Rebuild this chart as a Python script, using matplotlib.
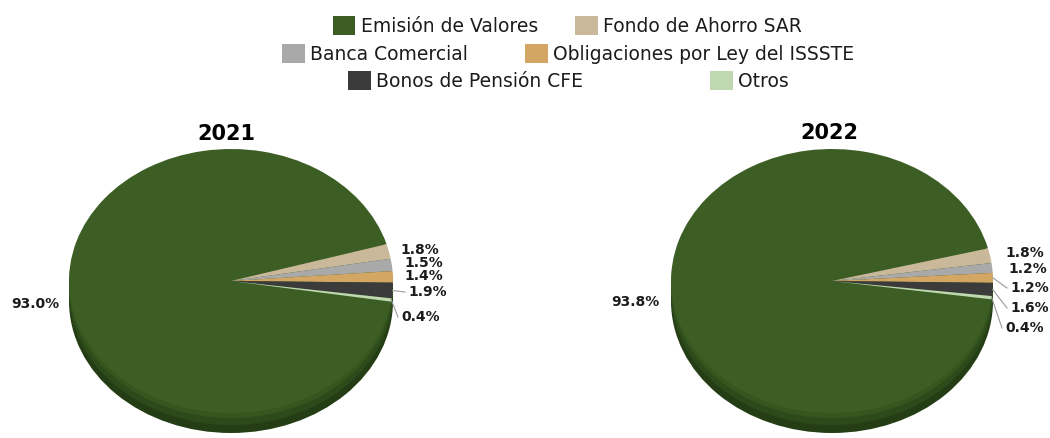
import matplotlib
matplotlib.use("Agg")
import matplotlib.pyplot as plt
from matplotlib.patches import Ellipse, Rectangle, Patch
import numpy as np

# ---------------- data ----------------
categories = ["Emisión de Valores", "Fondo de Ahorro SAR", "Banca Comercial",
              "Obligaciones por Ley del ISSSTE", "Bonos de Pensión CFE", "Otros"]
years = ["2021", "2022"]
values_2021 = [93.0, 1.8, 1.5, 1.4, 1.9, 0.4]
values_2022 = [93.8, 1.8, 1.2, 1.2, 1.6, 0.4]
colors = ["#3C5E24", "#C9B99A", "#A9A9A9", "#D4A663", "#3B3B3B", "#BFD8B0"]
side_color = "#243D14"

# ---------------- layout (pixels) ----------------
W, H = 1050, 438
FONT = ["DejaVu Sans"]
TXT = "#1c1c1c"

layouts = [
    dict(cx=231, cy=281, rx=162, ry=132, depth=20, start=-9,
         title_xy=(226, 134), big_xy=(35, 304),
         small_xy=[(400, 250), (404, 263), (404, 276), (408, 292), (401, 317)],
         leaders=[False, False, False, True, True]),
    dict(cx=832, cy=281, rx=161, ry=132, depth=20, start=-8,
         title_xy=(829, 133), big_xy=(635, 302),
         small_xy=[(1005, 253), (1008, 269), (1010, 288), (1010, 308), (1005, 328)],
         leaders=[False, False, True, True, True]),
]
legend_pos = [(333, 26), (575, 26), (282, 54), (525, 54), (348, 81), (710, 81)]

fig = plt.figure(figsize=(W / 100, H / 100), dpi=100)
fig.patch.set_facecolor("white")

for year, vals, L in zip(years, [values_2021, values_2022], layouts):
    cx, cy, rx, ry = L["cx"], L["cy"], L["rx"], L["ry"]

    def to_u(px, py):
        return (px - cx) / rx, (cy - py) / ry

    ax = fig.add_axes([0, 0, 1, 1])
    d = L["depth"] / ry
    # 3D side of the pie
    ax.add_patch(Ellipse((0, -d), 2, 2, facecolor=side_color, edgecolor="none", zorder=0))
    ax.add_patch(Rectangle((-1, -d), 2, d, facecolor=side_color, edgecolor="none", zorder=0))
    ax.add_patch(Ellipse((0, -d * 0.6), 2, 2, facecolor="#2D4B1A", edgecolor="none", zorder=0))
    ax.add_patch(Ellipse((0, -d * 0.25), 2, 2, facecolor="#35561F", edgecolor="none", zorder=0))

    wedges, _ = ax.pie(vals, colors=colors, startangle=L["start"], counterclock=False,
                       radius=1, center=(0, 0), wedgeprops=dict(linewidth=0))
    for w in wedges:
        w.set_zorder(2)

    ax.set_aspect("auto")
    ax.set_xlim((0 - cx) / rx, (W - cx) / rx)
    ax.set_ylim((cy - H) / ry, cy / ry)
    ax.axis("off")
    ax.patch.set_alpha(0)

    # title
    tx, ty = to_u(*L["title_xy"])
    ax.text(tx, ty, year, ha="center", va="center", fontsize=15, fontweight="bold",
            color="black", family=FONT)

    # big label
    bx, by = to_u(*L["big_xy"])
    ax.text(bx, by, f"{vals[0]:.1f}%", ha="center", va="center", fontsize=10,
            fontweight="bold", color=TXT, family=FONT)

    # small labels
    for w, v, (px, py), lead in zip(wedges[1:], vals[1:], L["small_xy"], L["leaders"]):
        lx, ly = to_u(px, py)
        ax.text(lx, ly, f"{v:.1f}%", ha="left", va="center", fontsize=10,
                fontweight="bold", color=TXT, family=FONT)
        if lead:
            th = np.deg2rad((w.theta1 + w.theta2) / 2)
            ex, ey = np.cos(th), np.sin(th)
            ex2, ey2 = to_u(px - 3, py)
            ax.plot([ex, ex2], [ey, ey2], color="#9a9a9a", lw=0.8, zorder=3)

# legend: one entry per position
for cat, col, (px, py) in zip(categories, colors, legend_pos):
    fig.legend(handles=[Patch(facecolor=col, edgecolor="none")], labels=[cat],
               loc="center left", bbox_to_anchor=(px / W, 1 - py / H),
               frameon=False, borderpad=0, borderaxespad=0,
               handlelength=1.2, handleheight=1.2, handletextpad=0.3,
               prop=dict(family=FONT, size=13.5), labelcolor=TXT)

fig.savefig("out.png", dpi=100, facecolor="white")
